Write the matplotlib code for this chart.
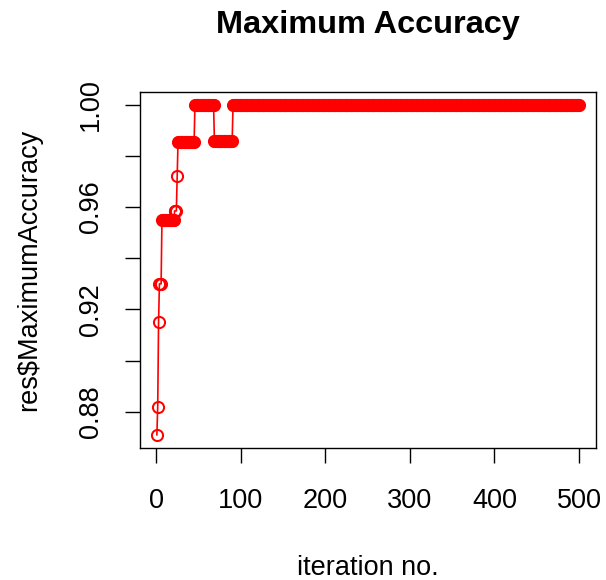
import numpy as np
import matplotlib
matplotlib.use("Agg")
import matplotlib.pyplot as plt

plt.rcParams["font.family"] = ["Liberation Sans", "DejaVu Sans"]

acc_levels = [0.871, 0.882, 0.915, 0.930, 0.955, 0.9585, 0.972,
              0.9855, 1.000, 0.986, 1.000]
run_lengths = [1, 1, 1, 3, 15, 3, 1, 20, 23, 22, 410]

y_ticks = [0.88, 0.90, 0.92, 0.94, 0.96, 0.98, 1.00]
y_ticklabels = ["0.88", "", "0.92", "", "0.96", "", "1.00"]
x_ticks = [0, 100, 200, 300, 400, 500]

accuracy = np.repeat(acc_levels, run_lengths)
iteration = np.arange(1, len(accuracy) + 1)

# ── Plot ───────────────────────────────────────────────────────────────────
fig = plt.figure(figsize=(6.06, 5.8), dpi=100)
ax = fig.add_axes([0.231, 0.2276, 0.7525, 0.6146])

ax.plot(iteration, accuracy, color="#FF0000", lw=1.2, marker="o",
        ms=8.0, mfc="none", mec="#FF0000", mew=1.45)

# R-style 4% padding
xr = iteration.max() - iteration.min()
yr = accuracy.max() - accuracy.min()
ax.set_xlim(iteration.min() - 0.04 * xr, iteration.max() + 0.04 * xr)
ax.set_ylim(accuracy.min() - 0.04 * yr, accuracy.max() + 0.04 * yr)

ax.set_xticks(x_ticks)
ax.set_xticklabels([str(t) for t in x_ticks])
ax.set_yticks(y_ticks)
ax.set_yticklabels(y_ticklabels, rotation=90, va="center")

ax.tick_params(direction="out", length=11, width=1.0, labelsize=19.5,
               colors="black")
ax.tick_params(axis="x", pad=18)
ax.tick_params(axis="y", pad=15)
for s in ax.spines.values():
    s.set_linewidth(1.0)

ax.set_title("Maximum Accuracy", fontsize=23.4, fontweight="bold", pad=42)
ax.set_xlabel("iteration no.", fontsize=19.5, labelpad=29)
ax.set_ylabel("res$MaximumAccuracy", fontsize=19.5, labelpad=26)

fig.savefig("out.png", dpi=100)
